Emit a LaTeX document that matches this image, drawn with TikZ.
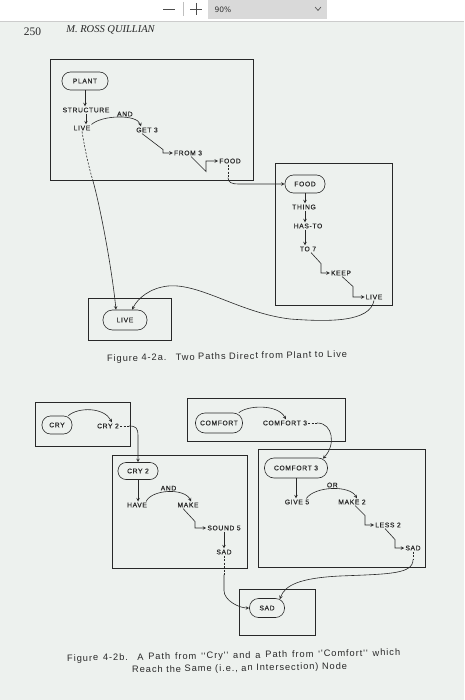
\documentclass[tikz,border=0pt]{standalone}
\usepackage{fontspec}
\setmainfont{Liberation Serif}
\newfontfamily\lblfont[LetterSpace=10, FakeBold=0.4]{Liberation Sans}
\newfontfamily\capfont[LetterSpace=10]{Liberation Sans}
\newfontfamily\uifont{DejaVu Sans}
\usetikzlibrary{arrows, calc, positioning}
\definecolor{paper}{RGB}{237,241,238}
\definecolor{ink}{RGB}{40,40,40}
\definecolor{barbg}{RGB}{217,217,217}

\tikzset{
  frame/.style={draw=ink, line width=0.75pt},
  concept/.style={draw=ink, line width=0.6pt, rounded corners=8.5pt, minimum height=18pt,
    inner xsep=2pt, inner ysep=0pt, font=\lblfont\fontsize{6.7}{7}\selectfont, text=ink},
  word/.style={inner sep=1pt, font=\lblfont\fontsize{6.7}{7}\selectfont, text=ink},
  link/.style={->, >=stealth, draw=ink, line width=0.6pt},
  dotlink/.style={draw=ink, line width=0.6pt, dash pattern=on 2pt off 1.5pt},
  caption/.style={font=\capfont\fontsize{9.3}{11}\selectfont, text=ink, inner sep=0pt, rotate=1},
}

\begin{document}
\begin{tikzpicture}[x=1pt, y=-1pt]
  \useasboundingbox[fill=paper] (0,0) rectangle (464,700);

  % viewer toolbar
  \fill[white] (0,0) rectangle (464,21);
  \draw[black!20] (0,21.5) -- (464,21.5);
  \draw[black!70, line width=0.7pt] (163,9) -- (175,9);
  \draw[black!25] (183,2) -- (183,16);
  \draw[black!70, line width=0.7pt] (190,9) -- (202,9) (196,3) -- (196,15);
  \fill[barbg] (208,0) rectangle (327,19);
  \node[font=\uifont\fontsize{7.5}{8}\selectfont, text=black!80, inner sep=0pt] (zoomlevel) at (223,9.5) {90\%};
  \draw[black!70, line width=0.6pt] (315,7) -- (318,10.5) -- (321,7);

  % page head
  \node[font=\fontsize{11.5}{12}\selectfont, text=ink] (pagenum) at (32.5,32) {250};
  \node[font=\itshape\fontsize{10.5}{12}\selectfont, text=ink] (author) at (110.5,30) {M. ROSS QUILLIAN};

  % ---- figure 4-2a ----
  \draw[frame] (50,59) rectangle (253,180);
  \node[concept, minimum width=46pt] (plant) at (85,81) {PLANT};
  \node[word] (structure) at (86,110) {STRUCTURE};
  \node[word] (live1) at (82,128) {LIVE};
  \node[word] (get3) at (147,130) {GET 3};
  \node[word] (from3) at (188,153) {FROM 3};
  \node[word] (food1) at (230,161) {FOOD};

  \draw[link] (plant.south) -- (plant.south |- structure.north);
  \draw[link] (structure.south) -- (structure.south |- live1.north);
  \draw[link] (live1.north east) .. controls (102,115) and (137,114) .. ($(get3.north)+(-6,0)$)
    node[pos=.6, above, word] {AND};
  \draw[link] ($(get3.south)+(-5,0)$) -- ++(21,16) |- (from3.west);
  \draw[link] ($(from3.south)+(3,0)$) -- ++(15,15) |- (food1.west);

  \draw[frame] (275,163) rectangle (392,305);
  \node[concept, minimum width=40pt] (food2) at (305,184) {FOOD};
  \node[word] (thing) at (304,207) {THING};
  \node[word] (hasto) at (308,226) {HAS-TO};
  \node[word] (to7) at (308,249) {TO 7};
  \node[word] (keep) at (341,273) {KEEP};
  \node[word] (live2) at (374,297) {LIVE};

  \draw[dotlink] ($(food1.south)+(-2,0)$) -- ++(0,13) coordinate (food1end);
  \draw[link] (food1end) .. controls +(0,5) and +(-6,0) .. (238,184) -- (food2.west);

  \draw[link] (food2.south) -- (food2.south |- thing.north);
  \draw[link] (food2.south |- thing.south) -- (food2.south |- hasto.north);
  \draw[link] (food2.south |- hasto.south) -- (food2.south |- to7.north);
  \draw[link] ($(to7.south)+(3,0)$) -- ++(10,11) |- (keep.west);
  \draw[link] ($(keep.south)+(1,0)$) -- ++(11,10) |- (live2.west);

  \draw[frame] (88,298) rectangle (171,340);
  \node[concept, minimum width=44pt, minimum height=20pt, rounded corners=9.5pt] (live3) at (125,320) {LIVE};

  \draw[dotlink] (live1.south) .. controls (85,150) and (89,168) .. (93,181) coordinate (live1end);
  \draw[link] (live1end) .. controls (101,210) and (112,270) .. ($(live3.north)+(-9,0)$);
  \draw[link] (live2.south) .. controls (370,322) and (330,322) .. (290,319)
    .. controls (240,313) and (200,283) .. (168,286)
    .. controls (150,288) and (138,298) .. ($(live3.north)+(7,0)$);

  \node[caption] (cap1) at (227,357) {Figure 4-2a.\quad Two Paths Direct from Plant to Live};

  % ---- figure 4-2b ----
  \draw[frame] (35,402) rectangle (130,446);
  \node[concept, minimum width=30pt] (cry) at (57,425) {CRY};
  \node[word] (cry2a) at (108,426) {CRY 2};
  \draw[link] ($(cry.north east)+(-4,0)$) .. controls (78,407) and (104,407) .. ($(cry2a.north)+(4,0)$);

  \draw[frame] (187,398) rectangle (345,441);
  \node[concept, minimum width=47pt, minimum height=20pt, rounded corners=9.5pt] (comfort) at (219,423) {COMFORT};
  \node[word] (comfort3a) at (285,423) {COMFORT 3};
  \draw[link] ($(comfort.north east)+(-4,0)$) .. controls (248,405) and (278,404) .. ($(comfort3a.north)+(1,0)$);

  \draw[frame] (112,455) rectangle (247,568);
  \node[concept, minimum width=40pt, minimum height=17pt, rounded corners=8pt] (cry2b) at (138,471) {CRY 2};
  \node[word] (have) at (137,505) {HAVE};
  \node[word] (make1) at (188,505) {MAKE};
  \node[word] (sound5) at (224,528) {SOUND 5};
  \node[word] (sad1) at (224,552) {SAD};

  \draw[dotlink] (cry2a.east) -- ++(9,0) coordinate (cry2end);
  \draw[link] (cry2end) .. controls +(7,0) and (138,428) .. (138,436) -- (cry2b.north);
  \draw[link] (cry2b.south) -- (cry2b.south |- have.north);
  \draw[link] ($(have.north east)+(-2,0)$) .. controls (152,489) and (185,488) .. ($(make1.north)+(3,0)$)
    node[pos=.5, above, word] {AND};
  \draw[link] ($(make1.south)+(-5,0)$) -- ++(12,13) |- (sound5.west);
  \draw[link] (sound5.south) -- (sound5.south |- sad1.north);

  \draw[frame] (258,449) rectangle (425,567);
  \node[concept, minimum width=63pt, minimum height=20pt, rounded corners=9.5pt] (comfort3b) at (296,468) {COMFORT 3};
  \node[word] (give5) at (297,502) {GIVE 5};
  \node[word] (make2) at (352,502) {MAKE 2};
  \node[word] (less2) at (388,525) {LESS 2};
  \node[word] (sad2) at (413,548) {SAD};

  \draw[dotlink] (comfort3a.east) -- ++(9,0) coordinate (comf3end);
  \draw[link] (comf3end) .. controls (333,423) and (336,445) .. ($(comfort3b.north east)+(-5,1)$);
  \draw[link] (comfort3b.south) -- (comfort3b.south |- give5.north);
  \draw[link] ($(give5.north east)+(-4,0)$) .. controls (315,486) and (350,485) .. ($(make2.north)+(5,0)$)
    node[pos=.5, above, word] {OR};
  \draw[link] ($(make2.south)+(3,0)$) -- ++(10,10) |- (less2.west);
  \draw[link] ($(less2.south)+(-3,0)$) -- ++(10,11) |- (sad2.west);

  \draw[frame] (239,589) rectangle (315,635);
  \node[concept, minimum width=35pt, minimum height=19pt, rounded corners=9pt] (sad3) at (267,608) {SAD};

  \draw[dotlink] (sad1.south) -- ++(0,19) coordinate (sad1end);
  \draw[link] (sad1end) -- ++(0,16) .. controls +(0,10) and +(-10,0) .. (sad3.west);
  \draw[dotlink] (sad2.south) -- ++(0,8) coordinate (sad2end);
  \draw[link] (sad2end) .. controls (413,574) and (390,574) .. (340,576)
    .. controls (300,578) and (285,585) .. ($(sad3.north east)+(-5,1)$);

  \node[caption, anchor=west] (cap2a) at (67,659) {\makebox[333pt][s]{Figure 4-2b.\quad A Path from ''Cry'' and a Path from ''Comfort'' which}};
  \node[caption, anchor=west] (cap2b) at (132,670.5) {Reach the Same (i.e., an Intersection) Node};
\end{tikzpicture}
\end{document}
